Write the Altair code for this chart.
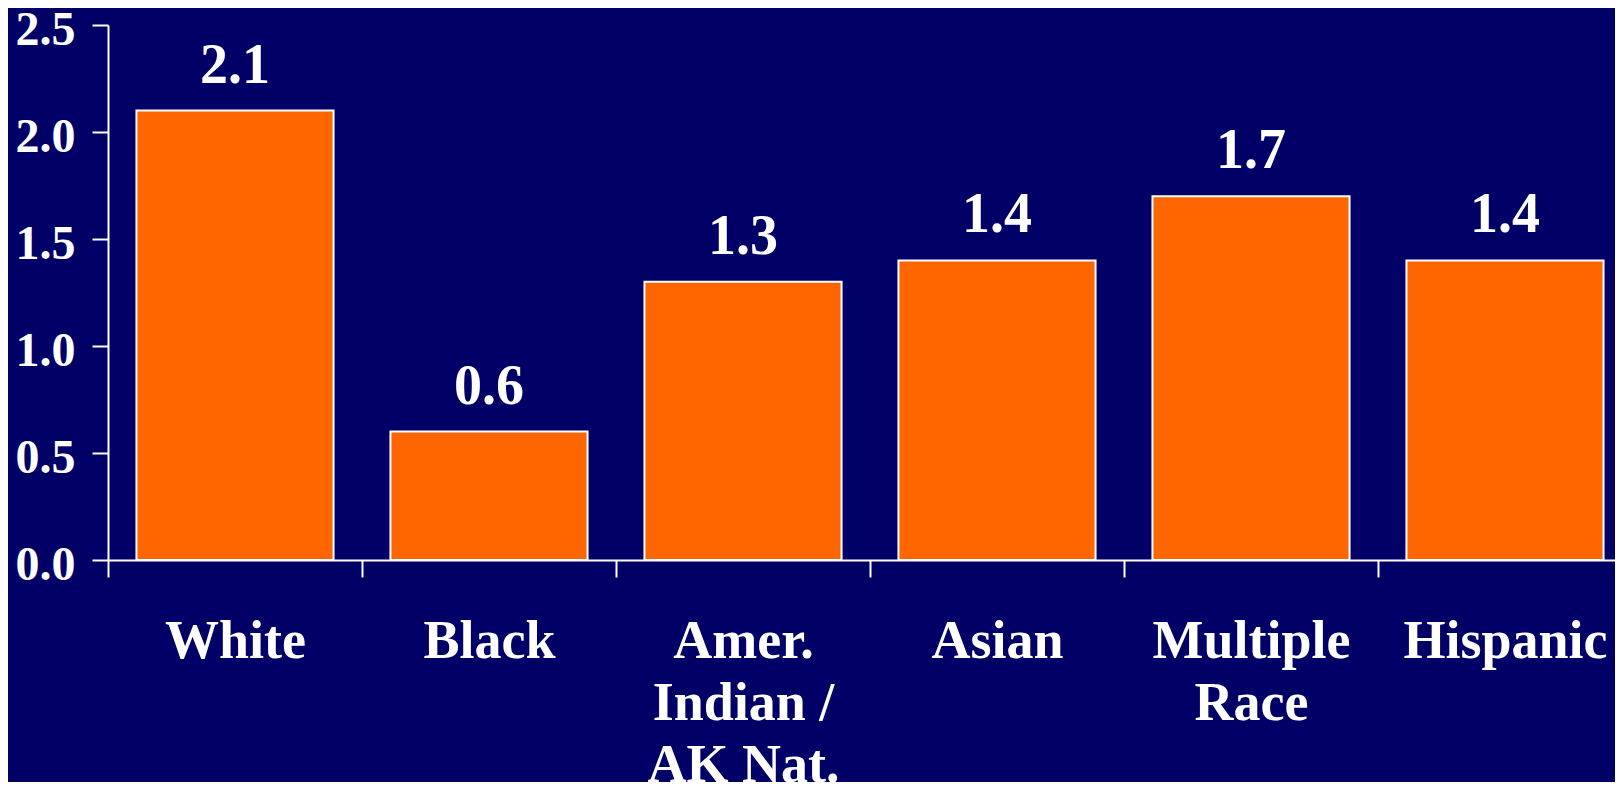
import altair as alt
import pandas as pd

categories = ["White", "Black", "Amer.\nIndian /\nAK Nat.", "Asian", "Multiple\nRace", "Hispanic"]
values = [2.1, 0.6, 1.3, 1.4, 1.7, 1.4]
y_ticks = [0.0, 0.5, 1.0, 1.5, 2.0, 2.5]

df = pd.DataFrame({"cat": categories, "val": values})

FONT = "'Liberation Serif', 'Times New Roman', Times, 'DejaVu Serif', serif"
BG = "#000066"
ORANGE = "#FF6600"

x = alt.X(
    "cat:N",
    sort=categories,
    scale=alt.Scale(paddingInner=0.224, paddingOuter=0.112, range=[0, 1524]),
    axis=alt.Axis(
        title=None,
        labelAngle=0,
        labelExpr="split(datum.label, '\\n')",
        labelFont=FONT,
        labelFontWeight="bold",
        labelFontSize=54,
        labelLineHeight=62,
        labelColor="white",
        labelPadding=37,
        labelLimit=0,
        labelOverlap=False,
        labelBound=False,
        tickOffset=-127,
        labelOffset=127,
        tickSize=17,
        tickWidth=2,
        tickColor="white",
        domainColor="white",
        domainWidth=2,
        grid=False,
    ),
)

y = alt.Y(
    "val:Q",
    scale=alt.Scale(domain=[0, 2.5], nice=False),
    axis=alt.Axis(
        title=None,
        values=y_ticks,
        format=".1f",
        labelFont=FONT,
        labelFontWeight="bold",
        labelFontSize=48,
        labelColor="white",
        labelPadding=17,
        labelOffset=5,
        tickSize=16,
        tickWidth=2,
        tickColor="white",
        domainColor="white",
        domainWidth=2,
        grid=False,
    ),
)

bars = alt.Chart(df).mark_bar(color=ORANGE, stroke="white", strokeWidth=2).encode(x=x, y=y)

text = alt.Chart(df).mark_text(
    font=FONT, fontWeight="bold", fontSize=56, color="white",
    baseline="alphabetic", dy=-28
).encode(
    x=alt.X("cat:N", sort=categories),
    y=alt.Y("val:Q"),
    text=alt.Text("val:Q", format=".1f"),
)

chart = alt.layer(bars, text).properties(
    width=1507,
    height=535,
    background=BG,
    padding={"left": 100, "top": 17, "right": 0, "bottom": 222},
    autosize=alt.AutoSizeParams(type="none"),
).configure_view(stroke=None)

chart.save("out.html", embed_options={"renderer": "svg", "actions": False})
